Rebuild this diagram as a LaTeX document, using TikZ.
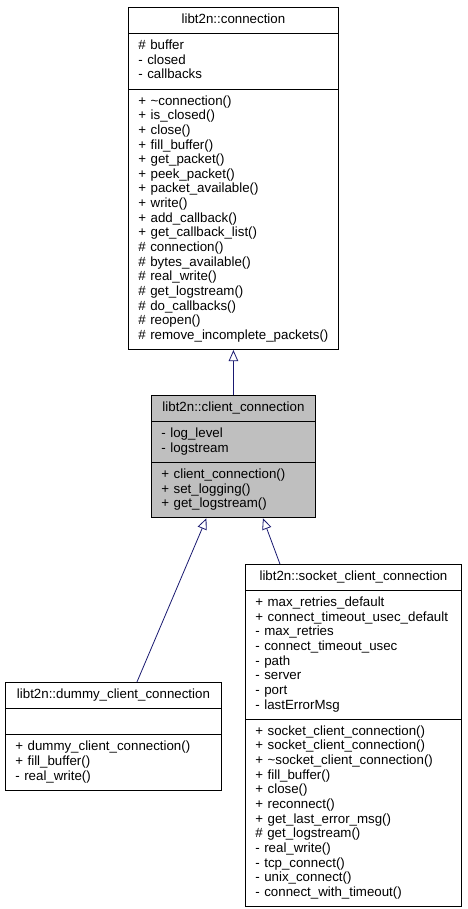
\documentclass[tikz,border=0pt]{standalone}
\usepackage{fontspec}
\setmainfont{Liberation Sans}
\usetikzlibrary{arrows.meta,shapes.multipart}
\definecolor{edgeblue}{RGB}{25,25,112}
\setlength{\parindent}{0pt}

\begin{document}
\begin{tikzpicture}[x=1pt, y=-1pt,
    cls/.style={draw, line width=0.9pt, rectangle split, rectangle split parts=3, anchor=north west, inner xsep=10pt, inner ysep=5.3pt, align=left, font=\fontsize{13.3}{14.65}\selectfont},
    inh/.style={draw=edgeblue, line width=0.8pt, -{Triangle[open, length=11pt, width=9.5pt]}}
]
\useasboundingbox (0,0) rectangle (467,909);

\node[cls, text width=190pt] (conn) at (128,7) {\centerline{\strut libt2n::connection}
  \nodepart{two}\strut\# buffer\\- closed\\- callbacks\strut
  \nodepart{three}\strut+ \textasciitilde connection()\\+ is\_closed()\\+ close()\\+ fill\_buffer()\\+ get\_packet()\\+ peek\_packet()\\+ packet\_available()\\+ write()\\+ add\_callback()\\+ get\_callback\_list()\\\# connection()\\\# bytes\_available()\\\# real\_write()\\\# get\_logstream()\\\# do\_callbacks()\\\# reopen()\\\# remove\_incomplete\_packets()\strut};
\node[cls, fill=black!25, text width=144pt] (client) at (151,395) {\centerline{\strut libt2n::client\_connection}
  \nodepart{two}\strut- log\_level\\- logstream\strut
  \nodepart{three}\strut+ client\_connection()\\+ set\_logging()\\+ get\_logstream()\strut};
\node[cls, text width=196pt] (dummy) at (5,682) {\centerline{\strut libt2n::dummy\_client\_connection}
  \nodepart{two}\strut
  \nodepart{three}\strut+ dummy\_client\_connection()\\+ fill\_buffer()\\- real\_write()\strut};
\node[cls, text width=196pt] (socket) at (245,564) {\centerline{\strut libt2n::socket\_client\_connection}
  \nodepart{two}\strut+ max\_retries\_default\\+ connect\_timeout\_usec\_default\\- max\_retries\\- connect\_timeout\_usec\\- path\\- server\\- port\\- lastErrorMsg\strut
  \nodepart{three}\strut+ socket\_client\_connection()\\+ socket\_client\_connection()\\+ \textasciitilde socket\_client\_connection()\\+ fill\_buffer()\\+ close()\\+ reconnect()\\+ get\_last\_error\_msg()\\\# get\_logstream()\\- real\_write()\\- tcp\_connect()\\- unix\_connect()\\- connect\_with\_timeout()\strut};

\draw[inh] (client.north) -- (conn.south);
\draw[inh] ([xshift=23.5pt]dummy.north) -- ([xshift=-27pt]client.south);
\draw[inh] ([xshift=-73.5pt]socket.north) -- ([xshift=29.5pt]client.south);
\end{tikzpicture}
\end{document}
